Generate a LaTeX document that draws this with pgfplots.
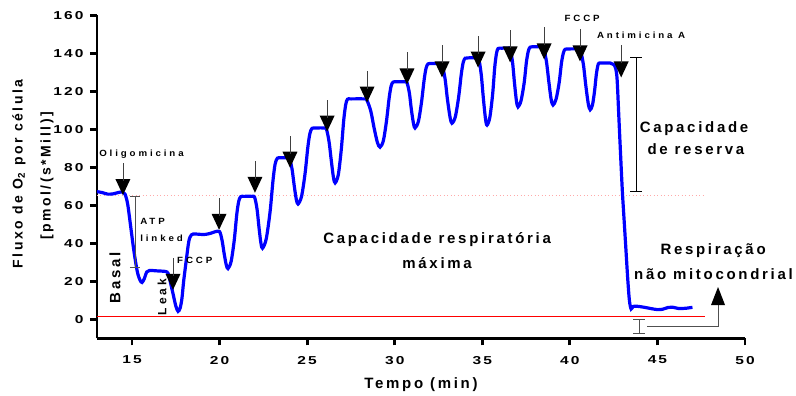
\documentclass[border=0pt]{standalone}
\usepackage{fontspec}
\setmainfont{Liberation Sans}
\newfontfamily\fbig{Liberation Sans}[LetterSpace=18]
\newfontfamily\fmid{Liberation Sans}[LetterSpace=25]
\newfontfamily\fsmall{Liberation Sans}[LetterSpace=32,FakeStretch=1.08]
\newfontfamily\ftick{Liberation Sans}[LetterSpace=18,FakeStretch=1.35]
\usepackage{pgfplots}
\pgfplotsset{compat=1.18}
\definecolor{trace}{RGB}{0,0,255}
\definecolor{bargray}{RGB}{80,80,80}
\definecolor{pinkdot}{RGB}{255,170,170}

\pgfdeclareplotmark{inj}{%
 \pgfpathmoveto{\pgfqpoint{0pt}{0pt}}%
 \pgfpathlineto{\pgfqpoint{-7.5pt}{16pt}}%
 \pgfpathlineto{\pgfqpoint{7.5pt}{16pt}}%
 \pgfpathclose
 \pgfusepathqfill
 \pgfpathmoveto{\pgfqpoint{0pt}{14pt}}%
 \pgfpathlineto{\pgfqpoint{0pt}{32pt}}%
 \pgfusepathqstroke
}
\pgfdeclareplotmark{upinj}{%
 \pgfpathmoveto{\pgfqpoint{0pt}{0pt}}%
 \pgfpathlineto{\pgfqpoint{-7pt}{-18pt}}%
 \pgfpathlineto{\pgfqpoint{7pt}{-18pt}}%
 \pgfpathclose
 \pgfusepathqfill
}

\begin{document}
\begin{tikzpicture}
\path[use as bounding box] (0pt,0pt) rectangle (796pt,396pt);
\begin{axis}[
  at={(97pt,57.5pt)}, anchor=south west,
  scale only axis, width=648pt, height=323pt,
  xmin=13, xmax=50, ymin=-10, ymax=160,
  axis x line*=bottom, axis y line*=left,
  axis line style={line width=2.8pt, black},
  xtick={15,20,...,50}, ytick={0,20,...,160},
  tick align=outside, major tick length=7pt,
  tick style={line width=2.8pt, black},
  ticklabel style={font=\ftick\bfseries\fontsize{11.5}{13}\selectfont},
  xticklabel style={yshift=-7pt},
  yticklabel style={xshift=-3pt},
  /pgf/number format/assume math mode=true,
  clip=false,
]
% reference lines
\addplot[red, line width=0.8pt] coordinates {(13,1.8) (47.7,1.8)};
\addplot[pinkdot, line width=0.8pt, dash pattern=on 1pt off 2.5pt] coordinates {(13,65.1) (47.6,65.1)};

% oxygen flux trace
\addplot[trace, line width=3.2pt, smooth] coordinates {
(13.0,67.3) (13.3,66.8) (13.6,66.0) (13.9,66.1) (14.2,66.8) (14.45,67.1) (14.6,66.0)
(14.75,60.8) (14.9,50.6) (15.1,36.5) (15.3,25.3) (15.45,20.8) (15.57,19.5) (15.7,21.5)
(15.84,25.0) (16.0,25.8) (16.4,25.6) (16.8,25.4) (17.0,25.0) (17.1,23.3) (17.2,19.2)
(17.35,13.2) (17.5,7.1) (17.63,4.3) (17.75,6.1) (17.85,11.1) (17.95,20.3) (18.1,31.4)
(18.25,41.5) (18.4,44.6) (18.6,45.0) (18.9,44.8) (19.2,44.8) (19.5,45.4) (19.75,46.2)
(20.0,46.2) (20.14,41.7) (20.26,34.7) (20.38,28.8) (20.48,26.8) (20.66,30.6) (20.84,42.0)
(20.98,55.3) (21.09,62.1) (21.2,64.6) (21.4,64.8) (21.85,64.8)
(22.0,64.3) (22.14,58.0) (22.25,48.4) (22.36,40.2) (22.45,37.5) (22.66,42.3) (22.88,56.5)
(23.05,73.2) (23.17,81.8) (23.3,84.9) (23.5,85.1) (23.85,85.1)
(24.0,84.6) (24.14,79.0) (24.26,70.5) (24.38,63.2) (24.48,60.8) (24.68,64.8) (24.88,76.8)
(25.04,90.8) (25.16,98.0) (25.28,100.6) (25.5,100.8) (25.95,100.8)
(26.1,100.2) (26.25,93.6) (26.38,83.5) (26.5,74.8) (26.6,71.9) (26.78,76.3) (26.95,89.6)
(27.09,105.1) (27.2,113.0) (27.3,115.9) (27.5,116.1) (28.25,116.1)
(28.4,115.6) (28.63,109.8) (28.82,100.9) (29.01,93.2) (29.16,90.7) (29.35,94.1) (29.53,104.5)
(29.68,116.5) (29.79,122.7) (29.9,124.9) (30.1,125.1) (30.55,125.1)
(30.7,124.6) (30.84,119.0) (30.95,110.5) (31.07,103.2) (31.16,100.8) (31.35,104.2) (31.53,114.4)
(31.68,126.2) (31.79,132.3) (31.9,134.5) (32.1,134.7) (32.55,134.7)
(32.7,134.1) (32.87,126.9) (33.01,115.9) (33.16,106.4) (33.27,103.3) (33.46,106.7) (33.65,117.1)
(33.8,129.1) (33.91,135.3) (34.02,137.5) (34.2,137.7) (34.65,137.7)
(34.8,137.0) (34.94,128.9) (35.06,116.5) (35.18,105.8) (35.27,102.3) (35.43,106.4) (35.59,118.5)
(35.71,132.7) (35.81,140.0) (35.9,142.6) (36.1,142.8) (36.45,142.8)
(36.6,142.2) (36.73,135.1) (36.84,124.3) (36.95,115.0) (37.04,111.9) (37.21,115.1) (37.39,124.5)
(37.52,135.6) (37.63,141.3) (37.73,143.3) (37.95,143.5) (38.35,143.5)
(38.5,142.9) (38.66,135.9) (38.8,125.1) (38.93,115.9) (39.04,112.9) (39.21,115.9) (39.39,124.7)
(39.52,135.0) (39.63,140.3) (39.73,142.2) (39.95,142.4) (40.45,142.4)
(40.6,141.8) (40.77,134.4) (40.91,123.2) (41.05,113.6) (41.16,110.4) (41.29,112.9) (41.41,120.2)
(41.51,128.9) (41.59,133.3) (41.66,134.9) (41.85,135.0) (42.3,135.0)
(42.5,134.2) (42.62,132.0) (42.7,126.0) (42.8,106.0) (42.9,86.0) (43.0,67.0) (43.1,52.0)
(43.2,37.0) (43.3,22.0) (43.4,10.0) (43.5,5.5) (43.6,6.8) (43.8,7.0) (44.2,6.5) (44.6,5.8)
(45.0,5.2) (45.3,5.4) (45.6,6.3) (45.9,6.4) (46.2,5.8) (46.6,5.9) (47.0,6.4)
};

% injection arrows
\addplot[only marks, mark=inj, mark options={draw=black!75, fill=black, line width=0.8pt}] coordinates {
(14.48,65.5) (17.34,15.6) (19.97,47.2) (22.02,66.7) (24.02,79.9) (26.14,98.9) (28.42,114.2)
(30.70,123.7) (32.70,127.4) (34.76,132.6) (36.59,135.3) (38.53,136.9) (40.58,135.8) (42.93,127.4)
};

% brackets
\addplot[bargray, line width=0.9pt] coordinates {(15.17,27.2) (15.17,64.6)};
\addplot[bargray, line width=0.9pt] coordinates {(14.88,64.6) (15.46,64.6)};
\addplot[bargray, line width=0.9pt] coordinates {(14.88,27.2) (15.46,27.2)};
\addplot[black, line width=0.9pt] coordinates {(43.78,67.2) (43.78,137.9)};
\addplot[black, line width=0.9pt] coordinates {(43.44,137.9) (44.12,137.9)};
\addplot[black, line width=0.9pt] coordinates {(43.44,67.2) (44.12,67.2)};
\addplot[bargray, line width=0.9pt] coordinates {(43.95,0.1) (43.95,-7.3)};
\addplot[bargray, line width=0.9pt] coordinates {(43.61,0.1) (44.29,0.1)};
\addplot[bargray, line width=0.9pt] coordinates {(43.61,-7.3) (44.29,-7.3)};
\addplot[bargray, line width=0.9pt] coordinates {(44.41,-3.4) (48.46,-3.4) (48.46,7.8)};
\addplot[only marks, mark=upinj, mark options={fill=black}] coordinates {(48.46,17.1)};

% annotations
\node[font=\fsmall\bfseries\fontsize{9}{11}\selectfont] at (axis cs:15.54,87.2) {Oligomicina};
\node[font=\fsmall\bfseries\fontsize{9}{11}\selectfont, anchor=west, inner sep=0pt] at (axis cs:15.46,51.4) {ATP};
\node[font=\fsmall\bfseries\fontsize{9}{11}\selectfont, anchor=west, inner sep=0pt] at (axis cs:15.46,42.5) {linked};
\node[font=\fsmall\bfseries\fontsize{9}{11}\selectfont, anchor=west, inner sep=0pt] at (axis cs:17.57,30.9) {FCCP};
\node[font=\fbig\bfseries\fontsize{15}{18}\selectfont, rotate=90] at (axis cs:14.03,21.9) {Basal};
\node[font=\fmid\bfseries\fontsize{12}{14}\selectfont, rotate=90] at (axis cs:16.71,11.9) {Leak};
\node[font=\fbig\bfseries\fontsize{15}{18}\selectfont] at (axis cs:32.42,41.9) {Capacidade respiratória};
\node[font=\fbig\bfseries\fontsize{15}{18}\selectfont] at (axis cs:32.42,29.8) {máxima};
\node[font=\fbig\bfseries\fontsize{15}{18}\selectfont] at (axis cs:47.09,100.5) {Capacidade};
\node[font=\fbig\bfseries\fontsize{15}{18}\selectfont] at (axis cs:47.2,89.4) {de reserva};
\node[font=\fsmall\bfseries\fontsize{9}{11}\selectfont] at (axis cs:40.70,158.5) {FCCP};
\node[font=\fsmall\bfseries\fontsize{9}{11}\selectfont] at (axis cs:44.07,149.5) {Antimicina A};
\node[font=\fbig\bfseries\fontsize{15}{18}\selectfont] at (axis cs:48.18,36.1) {Respiração};
\node[font=\fbig\bfseries\fontsize{15}{18}\selectfont] at (axis cs:48.2,24.0) {não mitocondrial};
\end{axis}
% axis titles
\node[font=\fbig\bfseries\fontsize{14}{16}\selectfont, rotate=90] at (19pt,222pt) {Fluxo de O\textsubscript{2} por célula};
\node[font=\fbig\bfseries\fontsize{14}{16}\selectfont, rotate=90] at (47pt,220pt) {[pmol/(s*Mill)]};
\node[font=\fbig\bfseries\fontsize{15}{18}\selectfont] at (421pt,11pt) {Tempo (min)};
\end{tikzpicture}
\end{document}
